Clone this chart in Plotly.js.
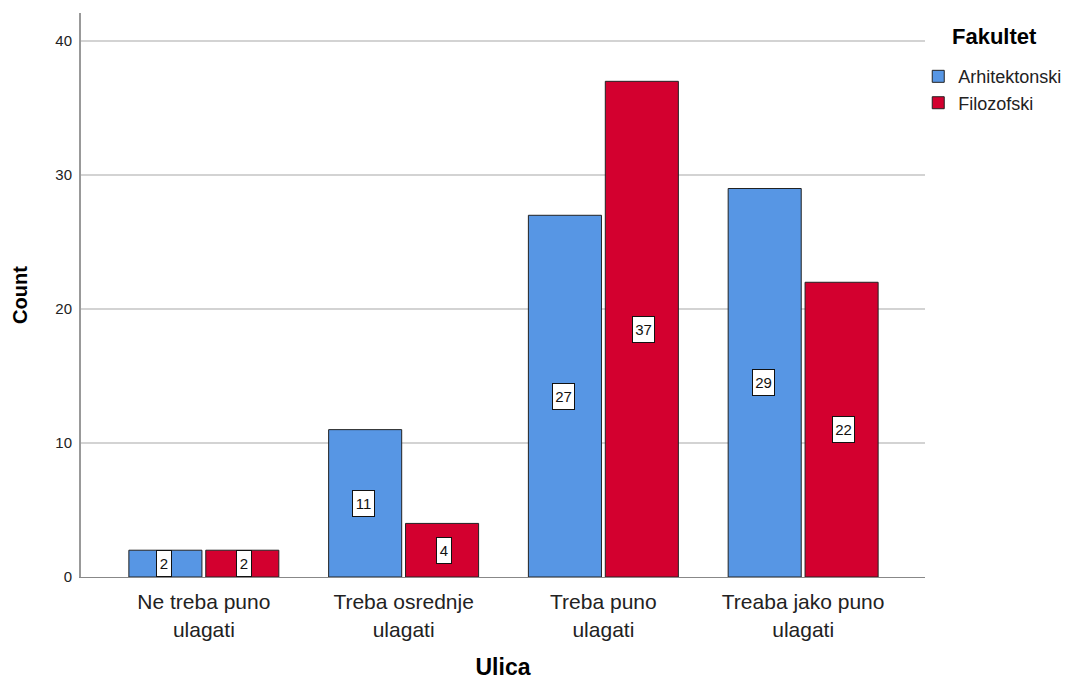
<!DOCTYPE html>
<html><head><meta charset="utf-8">
<script src="https://cdn.plot.ly/plotly-3.0.1.min.js"></script>
<style>body{margin:0;background:#fff}#chart{width:1065px;height:680px}</style>
</head><body><div id="chart"></div>
<script>
const categories = ["Ne treba puno<br>ulagati", "Treba osrednje<br>ulagati", "Treba puno<br>ulagati", "Treaba jako puno<br>ulagati"];
const arhitektonski = [2, 11, 27, 29];
const filozofski = [2, 4, 37, 22];
const seriesNames = ["Arhitektonski", "Filozofski"];
const legendTitle = "Fakultet";
const colors = ["#5796E4", "#D3002F"];

const FONT = "Liberation Sans, Arial, sans-serif";
const xs = categories.map((c, i) => i);
const traces = [arhitektonski, filozofski].map((vals, k) => ({
  type: "bar", x: xs, y: vals, name: seriesNames[k],
  marker: {color: colors[k], line: {color: "#222", width: 1}},
  hoverinfo: "none"
}));

const annotations = [];
[arhitektonski, filozofski].forEach((vals, k) => {
  vals.forEach((v, i) => {
    annotations.push({
      x: i + (k === 0 ? -0.2 : 0.2), y: v / 2, xref: "x", yref: "y",
      text: String(v), showarrow: false,
      font: {family: FONT, size: 15, color: "#111"},
      bgcolor: "#fff", bordercolor: "#111", borderwidth: 1, borderpad: 1,
      width: String(v).length > 1 ? 19 : 12, height: 23
    });
  });
});
annotations.push({
  xref: "paper", yref: "paper", x: 1.0296, y: 0.959, xanchor: "left", yanchor: "middle",
  text: "<b>" + legendTitle + "</b>", showarrow: false,
  font: {family: FONT, size: 22, color: "#000"}
});

const layout = {
  width: 1065, height: 680,
  margin: {l: 81, r: 140, t: 13, b: 103, autoexpand: false},
  paper_bgcolor: "#fff", plot_bgcolor: "#fff",
  font: {family: FONT, color: "#222"},
  barmode: "group", bargap: 0.23, bargroupgap: 0.05,
  showlegend: true,
  legend: {
    x: 0.992, xanchor: "left", y: 0.92, yanchor: "top",
    font: {size: 18, family: FONT, color: "#222"},
    tracegroupgap: 0, itemwidth: 30, bgcolor: "rgba(0,0,0,0)"
  },
  xaxis: {
    range: [-0.615, 3.61], tickvals: xs, ticktext: categories,
    showgrid: false, zeroline: false,
    showline: true, linecolor: "#888", linewidth: 1,
    ticks: "", ticklabelstandoff: 6, tickfont: {size: 21, color: "#222", family: FONT},
    title: {text: "<b>Ulica</b>", font: {size: 23, color: "#000", family: FONT}, standoff: 24},
    fixedrange: true
  },
  yaxis: {
    range: [0, 42.1], tickvals: [0, 10, 20, 30, 40],
    showgrid: true, gridcolor: "#d3d3d3", gridwidth: 1.5,
    zeroline: false, showline: true, linecolor: "#999", linewidth: 2,
    ticks: "", ticklabelstandoff: 4, tickfont: {size: 15, color: "#222", family: FONT},
    title: {text: "<b>Count</b>", font: {size: 20, color: "#000", family: FONT}, standoff: 22},
    fixedrange: true
  },
  annotations: annotations
};
Plotly.newPlot("chart", traces, layout, {displayModeBar: false, staticPlot: true});
</script>
</body></html>
